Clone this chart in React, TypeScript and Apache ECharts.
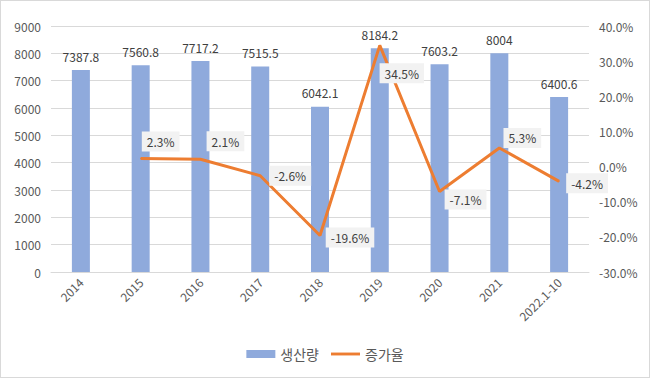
import React, { useEffect, useRef } from "react";
import * as echarts from "echarts";

const categories = ["2014", "2015", "2016", "2017", "2018", "2019", "2020", "2021", "2022.1-10"];
const production = [7387.8, 7560.8, 7717.2, 7515.5, 6042.1, 8184.2, 7603.2, 8004, 6400.6];
const growth: (number | null)[] = [null, 2.3, 2.1, -2.6, -19.6, 34.5, -7.1, 5.3, -4.2];
const growthLabelOffsets: [number, number][] = [
  [0, 0], [20, -17], [25, -18], [30, 0], [30, 2], [22, 28], [26, 8], [23, -10], [28, 2],
];
const leftTicks = { min: 0, max: 9000, interval: 1000 };
const rightTicks = { min: -30, max: 40, interval: 10 };
const seriesNames = ["생산량", "증가율"];

const FONT = "'Noto Sans CJK KR', 'Noto Sans', sans-serif";

export default function App() {
  const ref = useRef<HTMLDivElement>(null);
  useEffect(() => {
    if (!ref.current) return;
    const chart = echarts.init(ref.current, undefined, { renderer: "svg" });
    chart.setOption({
      animation: false,
      textStyle: { fontFamily: FONT },
      grid: { left: 51, right: 61, top: 26, bottom: 106, containLabel: false },
      legend: {
        bottom: 12,
        left: "center",
        itemWidth: 29,
        itemHeight: 8,
        itemGap: 12,
        textStyle: { color: "#595959", fontSize: 14, fontFamily: FONT },
        data: [
          { name: seriesNames[0], icon: "rect" },
          { name: seriesNames[1], icon: "path://M0,0h30v3h-30z" },
        ],
      },
      xAxis: {
        type: "category",
        data: categories,
        axisTick: { show: false },
        axisLine: { lineStyle: { color: "#d9d9d9" } },
        axisLabel: { rotate: 45, color: "#595959", fontSize: 12, margin: 8, interval: 0 },
      },
      yAxis: [
        {
          type: "value",
          ...leftTicks,
          axisLine: { show: false },
          axisTick: { show: false },
          splitLine: { lineStyle: { color: "#d9d9d9" } },
          axisLabel: { color: "#595959", fontSize: 12, margin: 10, formatter: (v: number) => String(v) },
        },
        {
          type: "value",
          ...rightTicks,
          position: "right",
          axisLine: { show: false },
          axisTick: { show: false },
          splitLine: { show: false },
          axisLabel: {
            color: "#595959",
            fontSize: 12,
            margin: 10,
            formatter: (v: number) => v.toFixed(1) + "%",
          },
        },
      ],
      series: [
        {
          name: seriesNames[0],
          type: "bar",
          data: production,
          barWidth: 18,
          itemStyle: { color: "#8faadc" },
          label: {
            show: true,
            position: "top",
            distance: 8,
            color: "#404040",
            fontSize: 12,
          },
        },
        {
          name: seriesNames[1],
          type: "line",
          yAxisIndex: 1,
          data: growth.map((v, i) =>
            v === null
              ? null
              : {
                  value: v,
                  label: { offset: growthLabelOffsets[i] },
                }
          ),
          symbol: "circle",
          symbolSize: 1,
          showSymbol: true,
          itemStyle: { color: "#ed7d31" },
          lineStyle: { color: "#ed7d31", width: 3 },
          label: {
            show: true,
            position: "inside",
            formatter: (p: any) => p.value + "%",
            color: "#404040",
            fontSize: 12,
            backgroundColor: "#f2f2f2",
            padding: [4, 5],
          },
        },
      ],
    });
    return () => chart.dispose();
  }, []);
  return (
    <div
      style={{
        position: "fixed",
        left: 0,
        top: 0,
        width: 650,
        height: 378,
        boxSizing: "border-box",
        border: "1px solid #d9d9d9",
        background: "#fff",
      }}
    >
      <div ref={ref} style={{ position: "absolute", left: -1, top: -1, width: 650, height: 378 }} />
    </div>
  );
}
